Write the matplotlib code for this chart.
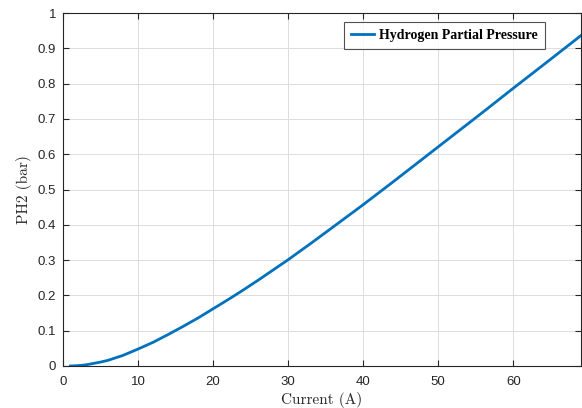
import matplotlib
matplotlib.use("Agg")
import matplotlib.pyplot as plt

# Hydrogen partial pressure vs. stack current
current = [1, 2, 3, 4, 5, 6, 8, 10, 12, 14, 16, 18, 20, 22, 24, 26, 28, 30,
           33, 36, 40, 44, 48, 52, 56, 60, 64, 69]
ph2 = [0.0, 0.001, 0.003, 0.007, 0.011, 0.016, 0.030, 0.048, 0.067, 0.089,
       0.112, 0.136, 0.162, 0.188, 0.215, 0.243, 0.272, 0.301, 0.347, 0.394,
       0.457, 0.522, 0.588, 0.654, 0.720, 0.787, 0.853, 0.936]

xticks = [0, 10, 20, 30, 40, 50, 60]
yticks = [0, 0.1, 0.2, 0.3, 0.4, 0.5, 0.6, 0.7, 0.8, 0.9, 1]
ytick_labels = ["0", "0.1", "0.2", "0.3", "0.4", "0.5", "0.6", "0.7", "0.8", "0.9", "1"]

fig = plt.figure(figsize=(5.82, 4.08), dpi=100)
ax = fig.add_axes([0.1082, 0.103, 0.8898, 0.865])

ax.plot(current, ph2, color="#0072BD", linewidth=2, label="Hydrogen Partial Pressure")

ax.set_xlim(0, 69)
ax.set_ylim(0, 1)
ax.set_xticks(xticks)
ax.set_xticklabels([str(t) for t in xticks])
ax.set_yticks(yticks)
ax.set_yticklabels(ytick_labels)

ax.grid(True, color="#dcdcdc", linewidth=0.7)
ax.set_axisbelow(True)
for s in ax.spines.values():
    s.set_color("#262626")
    s.set_linewidth(0.8)
ax.tick_params(direction="in", length=4, width=0.8, color="#262626",
               labelsize=9.5, labelcolor="#262626", top=True, right=True,
               labeltop=False, labelright=False)
ax.tick_params(axis="x", pad=7)
ax.tick_params(axis="y", pad=5)
for lbl in ax.get_xticklabels() + ax.get_yticklabels():
    lbl.set_fontfamily("Liberation Sans")

ax.set_xlabel("Current (A)", family="cmr10", fontsize=11,
              color="#262626", labelpad=3)
ax.set_ylabel("PH2 (bar)", family="cmr10", fontsize=11,
              color="#262626", labelpad=4)

leg = ax.legend(loc="upper right", bbox_to_anchor=(0.9305, 0.9745),
                prop={"family": "Liberation Serif", "weight": "bold", "size": 10},
                frameon=True, fancybox=False, handlelength=1.7,
                borderpad=0.5, handletextpad=0.35, borderaxespad=0.0)
leg.get_frame().set_edgecolor("#262626")
leg.get_frame().set_linewidth(0.8)

fig.savefig("out.png", dpi=100)
